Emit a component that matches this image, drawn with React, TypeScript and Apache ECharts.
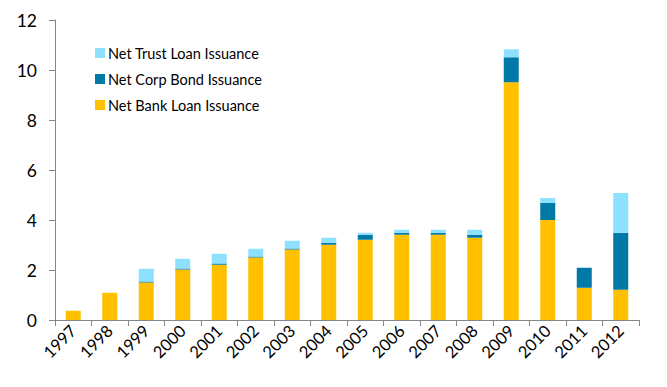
import React, { useEffect, useRef } from "react";
import * as echarts from "echarts";

const years = ["1997","1998","1999","2000","2001","2002","2003","2004","2005","2006","2007","2008","2009","2010","2011","2012"];
const bankLoan = [0.37, 1.09, 1.50, 2.02, 2.21, 2.50, 2.82, 3.01, 3.21, 3.41, 3.41, 3.29, 9.51, 4.00, 1.29, 1.21];
const corpBond = [0, 0, 0.04, 0.04, 0.05, 0.04, 0.04, 0.08, 0.20, 0.08, 0.08, 0.12, 1.00, 0.68, 0.80, 2.28];
const trustLoan = [0, 0, 0.51, 0.39, 0.39, 0.31, 0.31, 0.20, 0.08, 0.12, 0.12, 0.20, 0.32, 0.20, 0, 1.59];

const FONT = "Lato, 'Open Sans', sans-serif";

export default function App() {
  const ref = useRef<HTMLDivElement>(null);
  useEffect(() => {
    if (!ref.current) return;
    const chart = echarts.init(ref.current, null, { renderer: "svg" });
    chart.setOption({
      animation: false,
      backgroundColor: "#ffffff",
      grid: { left: 55, right: 28, top: 20, bottom: 67, containLabel: false },
      legend: {
        orient: "vertical",
        left: 90,
        top: 40,
        itemWidth: 10,
        itemHeight: 10,
        itemGap: 10,
        icon: "rect",
        data: ["Net Trust Loan Issuance", "Net Corp Bond Issuance", "Net Bank Loan Issuance"],
        textStyle: { fontFamily: FONT, fontSize: 14.5, color: "#000", lineHeight: 16, padding: [0, 0, 0, -2] },
      },
      xAxis: {
        type: "category",
        data: years,
        boundaryGap: true,
        axisLine: { lineStyle: { color: "#868686", width: 1 } },
        axisTick: { show: true, alignWithLabel: false, length: 6, lineStyle: { color: "#868686" } },
        axisLabel: { rotate: 45, fontFamily: FONT, fontSize: 16.5, color: "#000", margin: 8, interval: 0 },
      },
      yAxis: {
        type: "value",
        min: 0,
        max: 12,
        interval: 2,
        axisLine: { show: true, lineStyle: { color: "#868686", width: 1 } },
        axisTick: { show: true, inside: false, length: 6, lineStyle: { color: "#868686" } },
        splitLine: { show: false },
        axisLabel: { fontFamily: FONT, fontSize: 17.5, color: "#000", margin: 18 },
      },
      series: [
        {
          name: "Net Bank Loan Issuance",
          type: "bar",
          stack: "total",
          data: bankLoan,
          barWidth: 15,
          itemStyle: { color: "#FFC000" },
        },
        {
          name: "Net Corp Bond Issuance",
          type: "bar",
          stack: "total",
          data: corpBond,
          barWidth: 15,
          itemStyle: { color: "#0079A6" },
        },
        {
          name: "Net Trust Loan Issuance",
          type: "bar",
          stack: "total",
          data: trustLoan,
          barWidth: 15,
          itemStyle: { color: "#8EE0FF" },
        },
      ],
    });
    return () => chart.dispose();
  }, []);
  return <div ref={ref} style={{ width: 667, height: 387, position: "absolute", left: 0, top: 0 }} />;
}
